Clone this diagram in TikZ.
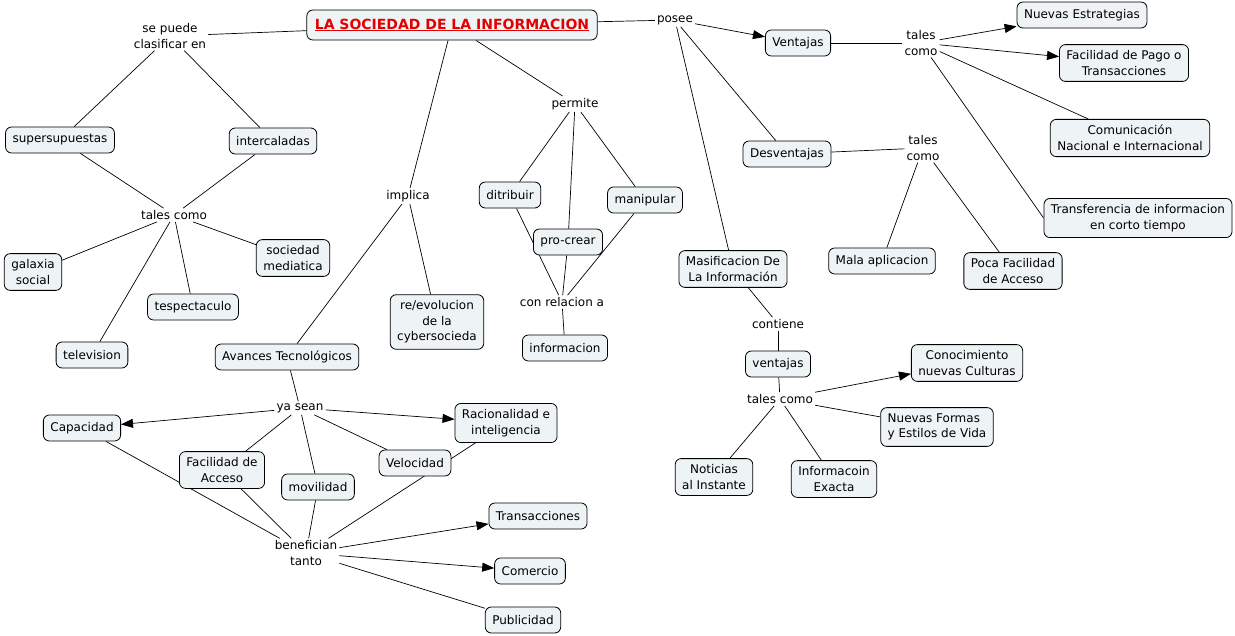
\documentclass[tikz,border=0pt]{standalone}
\usepackage{fontspec}
\setmainfont{DejaVu Sans}
\usepackage{xcolor}
\usepackage{tikz}
\usetikzlibrary{arrows.meta, backgrounds}

\definecolor{cajafondo}{RGB}{238,243,245}
\definecolor{titulorojo}{RGB}{228,0,0}

\tikzset{
    concepto/.style={draw=black, fill=cajafondo, rounded corners=6pt, line width=0.8pt,
        inner xsep=7pt, inner ysep=6pt, minimum height=26pt, align=center},
    enlace/.style={inner sep=2pt, align=center},
    linea/.style={line width=0.7pt},
    flecha/.style={line width=0.7pt, -{Triangle[length=12pt,width=9pt]}},
}

\begin{document}
\begin{tikzpicture}[x=1pt, y=-1pt, font=\fontsize{12}{15.5}\selectfont]
    \useasboundingbox (0,0) rectangle (1235,635);

    % centro
    \node[concepto, minimum height=30pt, inner xsep=8pt] (titulo) at (452,25)
        {\textcolor{titulorojo}{\fontsize{14}{15}\selectfont\bfseries\underline{LA SOCIEDAD DE LA INFORMACION}}};

    % clasificacion
    \node[enlace] (clasif) at (170,36) {se puede\\clasificar en};
    \node[concepto] (supersup) at (60,140) {supersupuestas};
    \node[concepto] (intercal) at (273,141) {intercaladas};
    \node[enlace] (talesA) at (174,215) {tales como};
    \node[concepto] (galaxia) at (33,272) {galaxia\\social};
    \node[concepto] (mediatica) at (293,258) {sociedad\\mediatica};
    \node[concepto] (tespect) at (193,307) {tespectaculo};
    \node[concepto] (television) at (92,355) {television};

    % implica
    \node[enlace] (implica) at (408,196) {implica};
    \node[concepto] (reevol) at (437,322) {re/evolucion\\de la\\cybersocieda};
    \node[concepto] (avances) at (287,357) {Avances Tecnológicos};

    % permite
    \node[enlace] (permite) at (575,104) {permite};
    \node[concepto] (ditribuir) at (510,195) {ditribuir};
    \node[concepto] (procrear) at (568,242) {pro-crear};
    \node[concepto] (manipular) at (645,200) {manipular};
    \node[enlace] (conrel) at (562,302) {con relacion a};
    \node[concepto] (informacion) at (565,348) {informacion};

    % avances tecnologicos
    \node[enlace] (yasean) at (300,408) {ya sean};
    \node[concepto] (capacidad) at (82,428) {Capacidad};
    \node[concepto] (racional) at (506,423) {Racionalidad e\\inteligencia};
    \node[concepto] (facilidad) at (222,470) {Facilidad de\\Acceso};
    \node[concepto] (movilidad) at (318,487) {movilidad};
    \node[concepto] (velocidad) at (415,463) {Velocidad};
    \node[enlace] (benef) at (306,553) {benefician\\tanto};
    \node[concepto] (transac) at (538,516) {Transacciones};
    \node[concepto] (comercio) at (530,571) {Comercio};
    \node[concepto] (publicidad) at (523,620) {Publicidad};

    % posee
    \node[enlace] (posee) at (675,20) {posee};
    \node[concepto] (ventajasA) at (798,43) {Ventajas};
    \node[concepto] (desventajas) at (787,154) {Desventajas};
    \node[enlace] (talesB) at (921,43) {tales\\como};
    \node[concepto] (estrateg) at (1082,15) {Nuevas Estrategias};
    \node[concepto] (facpago) at (1124,63) {Facilidad de Pago o\\Transacciones};
    \node[concepto] (comunic) at (1130,138) {Comunicación\\Nacional e Internacional};
    \node[concepto] (transfer) at (1138,218) {Transferencia de informacion\\en corto tiempo};
    \node[enlace] (talesC) at (923,148) {tales\\como};
    \node[concepto] (mala) at (882,261) {Mala aplicacion};
    \node[concepto] (poca) at (1013,271) {Poca Facilidad\\de Acceso};

    % masificacion
    \node[concepto] (masific) at (733,269) {Masificacion De\\La Información};
    \node[enlace] (contiene) at (778,324) {contiene};
    \node[concepto] (ventajasB) at (778,364) {ventajas};
    \node[enlace] (talesD) at (780,399) {tales como};
    \node[concepto] (conocim) at (967,363) {Conocimiento\\nuevas Culturas};
    \node[concepto, align=left] (formas) at (937,427) {Nuevas Formas\\y Estilos de Vida};
    \node[concepto] (noticias) at (714,477) {Noticias\\al Instante};
    \node[concepto] (exacta) at (834,479) {Informacoin\\Exacta};

    \begin{scope}[on background layer]
        \draw[linea] (titulo) -- (clasif);
        \draw[linea] (clasif) -- (supersup);
        \draw[linea] (clasif) -- (intercal);
        \draw[linea] (supersup) -- (talesA);
        \draw[linea] (intercal) -- (talesA);
        \foreach \dest in {galaxia, mediatica, tespect, television}
            \draw[linea] (talesA) -- (\dest);

        \draw[linea] (titulo) -- (implica);
        \draw[linea] (implica) -- (avances);
        \draw[linea] (implica) -- (reevol);

        \draw[linea] (titulo) -- (permite);
        \foreach \dest in {ditribuir, procrear, manipular} {
            \draw[linea] (permite) -- (\dest);
            \draw[linea] (\dest) -- (conrel);
        }
        \draw[linea] (conrel) -- (informacion);

        \draw[linea] (avances) -- (yasean);
        \draw[flecha] (yasean) -- (capacidad);
        \draw[flecha] (yasean) -- (racional);
        \foreach \dest in {facilidad, movilidad, velocidad}
            \draw[linea] (yasean) -- (\dest);
        \foreach \orig in {capacidad, facilidad, movilidad, racional}
            \draw[linea] (\orig) -- (benef);
        \draw[flecha] (benef) -- (transac);
        \draw[flecha] (benef) -- (comercio);
        \draw[linea] (benef) -- (publicidad);

        \draw[linea] (titulo) -- (posee);
        \draw[flecha] (posee) -- (ventajasA);
        \draw[linea] (posee) -- (desventajas);
        \draw[linea] (posee) -- (masific);
        \draw[linea] (ventajasA) -- (talesB);
        \draw[flecha] (talesB) -- (estrateg);
        \draw[flecha] (talesB) -- (facpago);
        \draw[linea] (talesB) -- (comunic);
        \draw[linea] (talesB) -- (transfer.west);
        \draw[linea] (desventajas) -- (talesC);
        \draw[linea] (talesC) -- (mala);
        \draw[linea] (talesC) -- (poca);

        \draw[linea] (masific) -- (contiene);
        \draw[linea] (contiene) -- (ventajasB);
        \draw[linea] (ventajasB) -- (talesD);
        \draw[flecha] (talesD) -- (conocim);
        \draw[linea] (talesD) -- (formas);
        \draw[linea] (talesD) -- (noticias);
        \draw[linea] (talesD) -- (exacta);
    \end{scope}
\end{tikzpicture}
\end{document}
